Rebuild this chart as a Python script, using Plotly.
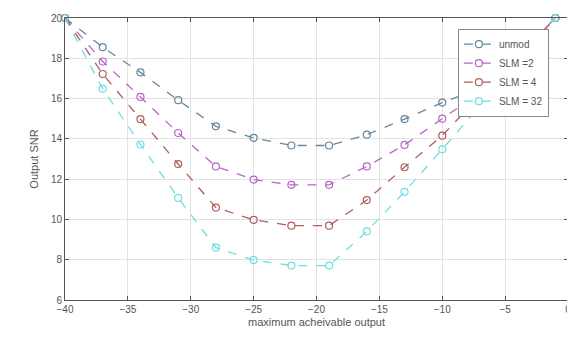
import plotly.graph_objects as go

x_vals = [-40, -37, -34, -31, -28, -25, -22, -19, -16, -13, -10, -7, -4, -1]
unmod = [20.0, 18.55, 17.3, 15.92, 14.62, 14.05, 13.67, 13.67, 14.21, 14.98, 15.8, 16.5, 18.2, 20.0]
slm2 = [20.0, 17.84, 16.08, 14.29, 12.63, 11.98, 11.72, 11.72, 12.63, 13.7, 15.0, 16.3, 18.1, 20.0]
slm4 = [20.0, 17.22, 14.98, 12.75, 10.59, 9.98, 9.69, 9.69, 10.96, 12.59, 14.16, 16.15, 18.0, 20.0]
slm32 = [20.0, 16.49, 13.72, 11.07, 8.6, 7.98, 7.71, 7.71, 9.41, 11.37, 13.48, 15.66, 17.8, 20.0]

names = ["unmod", "SLM =2", "SLM = 4", "SLM = 32"]
colors = ["#67889a", "#b865c9", "#ad5e5e", "#6fdede"]
series = [unmod, slm2, slm4, slm32]

x_tick0, x_dtick = -40, 5
y_ticks = [6, 8, 10, 12, 14, 16, 18, 20]

fig = go.Figure()
for name, col, ys in zip(names, colors, series):
    fig.add_trace(go.Scatter(
        x=x_vals, y=ys, name=name, mode="lines+markers",
        line=dict(color=col, width=1.3, dash="dash"),
        marker=dict(symbol="circle-open", size=7, color=col, line=dict(width=1.2, color=col)),
        cliponaxis=False,
    ))

axis_common = dict(
    showline=True, linecolor="#555555", linewidth=1, mirror="ticks",
    ticks="inside", ticklen=4, tickcolor="#555555",
    showgrid=True, gridcolor="#e2e2e2", gridwidth=1, zeroline=False,
    tickfont=dict(family="Liberation Sans, Arial", size=10, color="#555555"),
    ticklabeloverflow="allow",
)

fig.update_layout(
    width=567, height=330,
    margin=dict(l=57, r=4, t=5, b=38),
    paper_bgcolor="white", plot_bgcolor="white",
    font=dict(family="Liberation Sans, Arial", size=10, color="#555555"),
    xaxis=dict(range=[-40, 0], tickmode="linear", tick0=x_tick0, dtick=x_dtick,
               title=dict(text="maximum acheivable output", font=dict(size=11, color="#555555"), standoff=4),
               **axis_common),
    yaxis=dict(range=[6, 20], tickvals=y_ticks,
               title=dict(text="Output SNR", font=dict(size=11, color="#555555"), standoff=10),
               **axis_common),
    legend=dict(x=0.962, y=0.962, xanchor="right", yanchor="top",
                bgcolor="white", bordercolor="#888888", borderwidth=1,
                font=dict(size=10, color="#555555"),
                tracegroupgap=0, itemwidth=30),
    showlegend=True,
)

fig.write_html("out.html")
